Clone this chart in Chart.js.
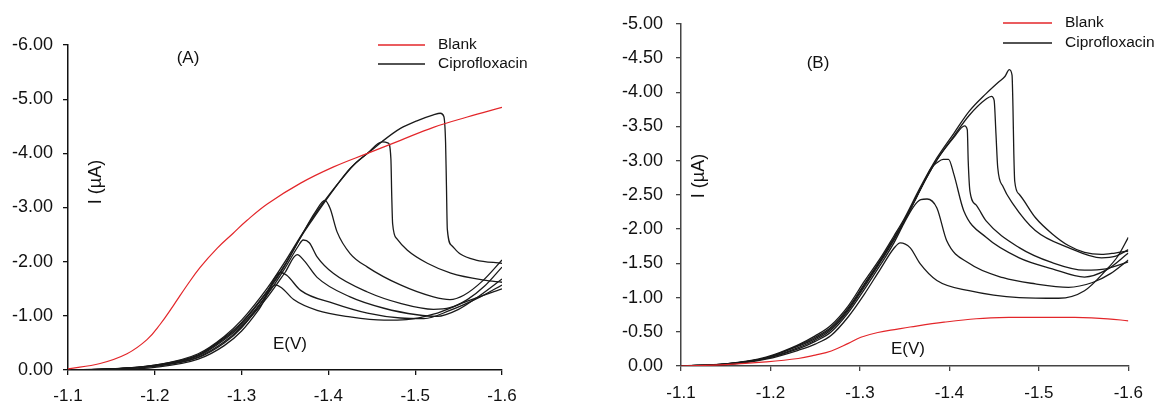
<!DOCTYPE html>
<html>
<head>
<meta charset="utf-8">
<script src="https://cdn.jsdelivr.net/npm/chart.js@4.4.1/dist/chart.umd.min.js"></script>
<style>
  html, body { margin: 0; padding: 0; background: #fff; }
  body { width: 1155px; height: 401px; position: relative; overflow: hidden; }
  .panel { position: absolute; top: 0; height: 401px; }
  #panelA { left: 0; width: 540px; }
  #panelB { left: 560px; width: 595px; }
</style>
</head>
<body>
<div class="panel" id="panelA"><canvas id="chartA"></canvas></div>
<div class="panel" id="panelB"><canvas id="chartB"></canvas></div>
<script>
// E (V) vs I (uA)

const ticksA_y = [-6, -5, -4, -3, -2, -1, 0];
const ticksB_y = [-5, -4.5, -4, -3.5, -3, -2.5, -2, -1.5, -1, -0.5, 0];
const ticksX = [-1.1, -1.2, -1.3, -1.4, -1.5, -1.6];

// ---- panel A ----
const blankA = [[-1.100,-0.02],[-1.137,-0.12],[-1.168,-0.30],[-1.191,-0.56],[-1.206,-0.84],[-1.221,-1.18],
  [-1.237,-1.56],[-1.252,-1.89],[-1.272,-2.25],[-1.290,-2.52],[-1.306,-2.76],[-1.330,-3.07],[-1.368,-3.45],
  [-1.406,-3.75],[-1.445,-4.00],[-1.483,-4.24],[-1.521,-4.48],[-1.560,-4.67],[-1.600,-4.85]];

const ciproA1 = [[-1.10,0],[-1.15,-0.01],[-1.20,-0.05],[-1.25,-0.20],[-1.28,-0.45],[-1.30,-0.72],[-1.32,-1.12],
  [-1.339,-1.57],[-1.346,-1.52],[-1.360,-1.30],[-1.387,-1.10],[-1.425,-0.98],[-1.464,-0.92],[-1.490,-0.93],
  [-1.521,-1.03],[-1.560,-1.27],[-1.600,-1.50]];
const ciproA2 = [[-1.10,0],[-1.15,-0.02],[-1.20,-0.07],[-1.25,-0.23],[-1.28,-0.50],[-1.30,-0.78],[-1.325,-1.30],
  [-1.345,-1.80],[-1.352,-1.75],[-1.368,-1.47],[-1.406,-1.23],[-1.445,-1.05],[-1.483,-0.96],[-1.510,-0.95],
  [-1.540,-1.10],[-1.575,-1.35],[-1.600,-1.57]];
const ciproA3 = [[-1.10,0],[-1.15,-0.02],[-1.20,-0.07],[-1.25,-0.24],[-1.28,-0.52],[-1.30,-0.80],[-1.33,-1.35],
  [-1.35,-1.80],[-1.364,-2.13],[-1.372,-2.02],[-1.387,-1.71],[-1.425,-1.35],[-1.464,-1.14],[-1.502,-1.02],
  [-1.525,-0.99],[-1.550,-1.12],[-1.575,-1.38],[-1.600,-1.68]];
const ciproA4 = [[-1.10,0],[-1.15,-0.02],[-1.20,-0.08],[-1.25,-0.26],[-1.28,-0.56],[-1.30,-0.83],[-1.33,-1.40],
  [-1.35,-1.88],[-1.365,-2.28],[-1.371,-2.40],[-1.378,-2.35],[-1.387,-2.09],[-1.406,-1.78],[-1.445,-1.44],
  [-1.483,-1.23],[-1.521,-1.12],[-1.540,-1.15],[-1.560,-1.30],[-1.580,-1.55],[-1.600,-1.90]];
const ciproA5 = [[-1.10,0],[-1.15,-0.02],[-1.20,-0.08],[-1.25,-0.27],[-1.28,-0.58],[-1.30,-0.86],[-1.33,-1.45],
  [-1.35,-1.93],[-1.368,-2.45],[-1.385,-2.92],[-1.396,-3.13],[-1.402,-2.98],[-1.410,-2.55],[-1.425,-2.15],
  [-1.445,-1.90],[-1.483,-1.57],[-1.521,-1.35],[-1.540,-1.30],[-1.556,-1.38],[-1.578,-1.65],[-1.600,-2.03]];
const ciproA6 = [[-1.10,0],[-1.15,-0.02],[-1.20,-0.09],[-1.25,-0.28],[-1.28,-0.60],[-1.30,-0.88],[-1.33,-1.47],
  [-1.35,-1.95],[-1.368,-2.45],[-1.387,-2.90],[-1.406,-3.33],[-1.425,-3.72],[-1.445,-4.00],[-1.462,-4.21],
  [-1.469,-4.19],[-1.472,-3.90],[-1.473,-3.20],[-1.474,-2.70],[-1.479,-2.42],[-1.491,-2.21],[-1.514,-1.97],
  [-1.541,-1.79],[-1.579,-1.66],[-1.600,-1.62]];
const ciproA7 = [[-1.10,0],[-1.15,-0.02],[-1.20,-0.09],[-1.25,-0.30],[-1.28,-0.62],[-1.30,-0.92],[-1.33,-1.52],
  [-1.35,-2.00],[-1.37,-2.52],[-1.39,-3.00],[-1.41,-3.42],[-1.43,-3.80],[-1.45,-4.06],[-1.462,-4.22],
  [-1.483,-4.46],[-1.502,-4.60],[-1.521,-4.71],[-1.529,-4.74],[-1.533,-4.68],[-1.535,-4.20],[-1.536,-3.40],
  [-1.537,-2.60],[-1.542,-2.30],[-1.552,-2.14],[-1.570,-2.03],[-1.600,-1.97]];

// ---- panel B ----
const blankB = [[-1.100,0],[-1.150,-0.02],[-1.195,-0.06],[-1.231,-0.11],[-1.250,-0.16],[-1.268,-0.22],
  [-1.287,-0.33],[-1.301,-0.42],[-1.320,-0.49],[-1.342,-0.54],[-1.356,-0.57],[-1.394,-0.64],[-1.430,-0.69],
  [-1.467,-0.71],[-1.504,-0.71],[-1.540,-0.71],[-1.577,-0.69],[-1.600,-0.66]];

const ciproB1 = [[-1.10,0],[-1.15,-0.02],[-1.195,-0.10],[-1.231,-0.23],[-1.25,-0.32],[-1.268,-0.45],[-1.287,-0.72],
  [-1.305,-1.05],[-1.323,-1.42],[-1.338,-1.72],[-1.345,-1.80],[-1.356,-1.73],[-1.367,-1.50],[-1.386,-1.25],
  [-1.422,-1.10],[-1.478,-1.00],[-1.522,-0.99],[-1.551,-1.10],[-1.575,-1.40],[-1.588,-1.60],[-1.600,-1.88]];
const ciproB2 = [[-1.10,0],[-1.15,-0.02],[-1.195,-0.11],[-1.231,-0.25],[-1.25,-0.36],[-1.268,-0.50],[-1.287,-0.78],
  [-1.305,-1.12],[-1.323,-1.48],[-1.338,-1.80],[-1.349,-2.08],[-1.360,-2.33],[-1.368,-2.43],[-1.375,-2.44],
  [-1.386,-2.31],[-1.397,-1.83],[-1.422,-1.50],[-1.460,-1.29],[-1.496,-1.20],[-1.533,-1.15],[-1.560,-1.22],
  [-1.580,-1.35],[-1.600,-1.55]];
const ciproB3 = [[-1.10,0],[-1.15,-0.03],[-1.195,-0.11],[-1.231,-0.27],[-1.25,-0.38],[-1.268,-0.53],[-1.287,-0.81],
  [-1.305,-1.16],[-1.323,-1.52],[-1.338,-1.84],[-1.349,-2.10],[-1.367,-2.56],[-1.380,-2.90],[-1.386,-2.97],
  [-1.393,-3.02],[-1.399,-3.02],[-1.405,-2.80],[-1.416,-2.27],[-1.441,-1.88],[-1.478,-1.58],[-1.515,-1.42],
  [-1.551,-1.30],[-1.575,-1.40],[-1.600,-1.65]];
const ciproB4 = [[-1.10,0],[-1.15,-0.03],[-1.195,-0.12],[-1.231,-0.29],[-1.25,-0.40],[-1.268,-0.55],[-1.287,-0.83],
  [-1.305,-1.18],[-1.323,-1.54],[-1.338,-1.86],[-1.349,-2.11],[-1.367,-2.57],[-1.386,-3.01],[-1.405,-3.34],
  [-1.417,-3.51],[-1.420,-3.45],[-1.421,-3.00],[-1.423,-2.55],[-1.430,-2.35],[-1.441,-2.12],[-1.478,-1.73],
  [-1.515,-1.51],[-1.551,-1.40],[-1.575,-1.42],[-1.600,-1.52]];
const ciproB5 = [[-1.10,0],[-1.15,-0.03],[-1.195,-0.12],[-1.231,-0.30],[-1.25,-0.42],[-1.268,-0.57],[-1.287,-0.85],
  [-1.305,-1.20],[-1.323,-1.55],[-1.338,-1.87],[-1.349,-2.11],[-1.367,-2.57],[-1.386,-3.01],[-1.405,-3.36],
  [-1.422,-3.66],[-1.441,-3.90],[-1.447,-3.94],[-1.450,-3.88],[-1.452,-3.40],[-1.454,-2.90],[-1.460,-2.62],
  [-1.471,-2.37],[-1.496,-1.98],[-1.533,-1.73],[-1.570,-1.58],[-1.585,-1.60],[-1.600,-1.70]];
const ciproB6 = [[-1.10,0],[-1.15,-0.03],[-1.195,-0.13],[-1.231,-0.31],[-1.25,-0.44],[-1.268,-0.60],[-1.287,-0.88],
  [-1.305,-1.24],[-1.323,-1.58],[-1.338,-1.90],[-1.349,-2.14],[-1.367,-2.60],[-1.386,-3.04],[-1.405,-3.40],
  [-1.422,-3.72],[-1.441,-3.98],[-1.455,-4.15],[-1.462,-4.23],[-1.467,-4.33],[-1.470,-4.25],[-1.471,-3.80],
  [-1.472,-3.10],[-1.473,-2.70],[-1.478,-2.51],[-1.496,-2.17],[-1.515,-1.93],[-1.533,-1.76],[-1.551,-1.66],
  [-1.570,-1.63],[-1.585,-1.65],[-1.600,-1.68]];

const RED = '#e3262a';
const BLACK = '#1a1a1a';
const FONT = '"Liberation Sans", Arial, sans-serif';

const toPts = arr => arr.map(([x, y]) => ({ x, y }));

const lineSet = (label, arr, color) => {
    const set = {
        label,
        data: toPts(arr),
        showLine: true,
        borderColor: color,
        borderWidth: color === RED ? 1.2 : 1.3,
        pointRadius: 0,
        fill: false
    };
    // blank curves are smooth, the peaks need monotone so the drops don't overshoot
    if (color === RED) set.tension = 0.4;
    else set.cubicInterpolationMode = 'monotone';
    return set;
};

// texts and legend drawn on top of each plot
const figText = {
    id: 'figText',
    afterDraw(chart, args, o) {
        const ctx = chart.ctx;
        ctx.save();
        ctx.fillStyle = '#111';
        ctx.textBaseline = 'middle';

        ctx.font = `17px ${FONT}`;
        ctx.textAlign = 'center';
        ctx.fillText(o.panel[0], o.panel[1], o.panel[2]);
        ctx.fillText('E(V)', o.eLabel[0], o.eLabel[1]);

        ctx.save();
        ctx.translate(o.iLabel[0], o.iLabel[1]);
        ctx.rotate(-Math.PI / 2);
        ctx.font = `18px ${FONT}`;
        ctx.fillText('I (\u00b5A)', 0, 0);
        ctx.restore();

        const [lx0, lx1, tx, y1, y2] = o.legend;
        ctx.lineWidth = 1.3;
        ctx.strokeStyle = RED;
        ctx.beginPath(); ctx.moveTo(lx0, y1); ctx.lineTo(lx1, y1); ctx.stroke();
        ctx.strokeStyle = BLACK;
        ctx.beginPath(); ctx.moveTo(lx0, y2); ctx.lineTo(lx1, y2); ctx.stroke();
        ctx.font = `15.5px ${FONT}`;
        ctx.textAlign = 'left';
        ctx.fillText('Blank', tx, y1);
        ctx.fillText('Ciprofloxacin', tx, y2);
        ctx.restore();
    }
};

const makeChart = (id, sets, yTicks, cfg) => new Chart(document.getElementById(id), {
    type: 'scatter',
    data: { datasets: sets },
    plugins: [figText],
    options: {
        responsive: true,
        maintainAspectRatio: false,
        animation: false,
        layout: { padding: { left: 0, top: cfg.top, right: cfg.right, bottom: 0 } },
        plugins: {
            legend: { display: false },
            tooltip: { enabled: false },
            figText: cfg.text
        },
        scales: {
            x: {
                type: 'linear',
                reverse: true,
                min: -1.6,
                max: -1.1,
                afterBuildTicks: s => { s.ticks = ticksX.map(v => ({ value: v })); },
                afterFit: s => { s.height = cfg.xh; },
                ticks: {
                    callback: v => v.toFixed(1),
                    font: { family: FONT, size: 17 },
                    color: '#111',
                    padding: cfg.xpad,
                    maxRotation: 0
                },
                grid: { drawOnChartArea: false, tickLength: 5, tickColor: cfg.axis, lineWidth: 1.3 },
                border: { color: cfg.axis, width: 1.5 }
            },
            y: {
                type: 'linear',
                reverse: true,
                min: yTicks[0],
                max: 0,
                afterBuildTicks: s => { s.ticks = yTicks.map(v => ({ value: v })); },
                afterFit: s => { s.width = cfg.yw; },
                ticks: {
                    callback: v => v.toFixed(2),
                    font: { family: FONT, size: 18 },
                    color: '#111',
                    padding: cfg.ypad
                },
                grid: { drawOnChartArea: false, tickLength: 5, tickColor: cfg.axis, lineWidth: 1.3 },
                border: { color: cfg.axis, width: 1.5 }
            }
        }
    }
});

makeChart('chartA', [
    lineSet('Blank', blankA, RED),
    lineSet('Ciprofloxacin', ciproA1, BLACK),
    lineSet('Ciprofloxacin', ciproA2, BLACK),
    lineSet('Ciprofloxacin', ciproA3, BLACK),
    lineSet('Ciprofloxacin', ciproA4, BLACK),
    lineSet('Ciprofloxacin', ciproA5, BLACK),
    lineSet('Ciprofloxacin', ciproA6, BLACK),
    lineSet('Ciprofloxacin', ciproA7, BLACK)
], ticksA_y, {
    top: 45, right: 38, xh: 31, yw: 68, xpad: 11, ypad: 10, axis: '#111',
    text: { panel: ['(A)', 188, 58], eLabel: [290, 344], iLabel: [96, 182], legend: [378, 425, 438, 45, 64] }
});

makeChart('chartB', [
    lineSet('Blank', blankB, RED),
    lineSet('Ciprofloxacin', ciproB1, BLACK),
    lineSet('Ciprofloxacin', ciproB2, BLACK),
    lineSet('Ciprofloxacin', ciproB3, BLACK),
    lineSet('Ciprofloxacin', ciproB4, BLACK),
    lineSet('Ciprofloxacin', ciproB5, BLACK),
    lineSet('Ciprofloxacin', ciproB6, BLACK)
], ticksB_y, {
    top: 22, right: 21, xh: 35, yw: 121, xpad: 12, ypad: 13, axis: '#444',
    text: { panel: ['(B)', 258, 63], eLabel: [348, 349], iLabel: [139, 176], legend: [443, 492, 505, 23, 43] }
});
</script>
</body>
</html>
